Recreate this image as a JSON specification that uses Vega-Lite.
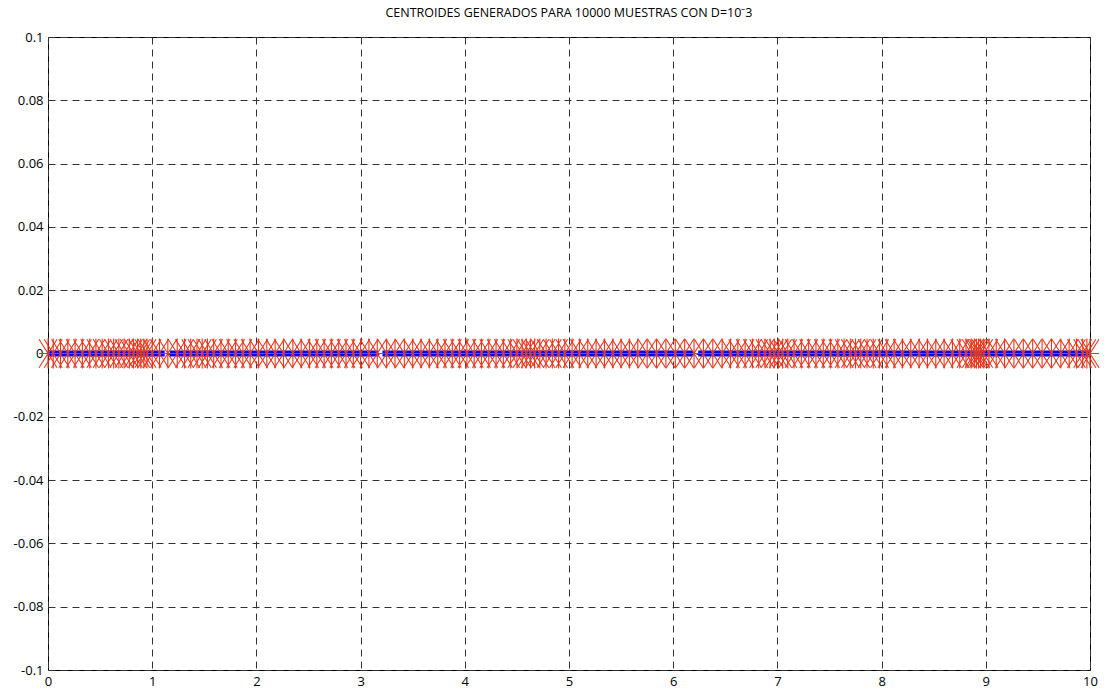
{
  "$schema": "https://vega.github.io/schema/vega-lite/v6.json",
  "width": 1042,
  "height": 633,
  "autosize": {"type": "none"},
  "padding": {"left": 48, "top": 37, "right": 16, "bottom": 26},
  "background": "white",
  "title": {
    "text": "CENTROIDES GENERADOS PARA 10000 MUESTRAS CON D=10⁻3",
    "font": "Open Sans",
    "fontSize": 12.5,
    "fontWeight": "normal",
    "color": "#000000",
    "anchor": "middle",
    "offset": 12
  },
  "config": {
    "view": {"stroke": "#000000", "strokeWidth": 1},
    "axis": {
      "labelFont": "Open Sans",
      "labelFontSize": 13,
      "labelColor": "#000000",
      "domain": false,
      "ticks": false,
      "grid": true,
      "gridColor": "#333333",
      "gridDash": [7, 5],
      "gridWidth": 1,
      "gridOpacity": 1,
      "labelFlush": false,
      "labelOverlap": false,
      "title": null
    }
  },
  "datasets": {
    "muestras": [
      {"desde": 0.0, "hasta": 1.12},
      {"desde": 1.17, "hasta": 3.17},
      {"desde": 3.21, "hasta": 6.19},
      {"desde": 6.24, "hasta": 10.0}
    ],
    "centroides": [
      {"c": 0.00}, {"c": 0.05}, {"c": 0.12}, {"c": 0.19}, {"c": 0.26}, {"c": 0.33}, {"c": 0.40}, {"c": 0.46},
      {"c": 0.52}, {"c": 0.58}, {"c": 0.63}, {"c": 0.68}, {"c": 0.73}, {"c": 0.78}, {"c": 0.82}, {"c": 0.86},
      {"c": 0.89}, {"c": 0.92}, {"c": 0.95}, {"c": 1.00},
      {"c": 1.07}, {"c": 1.15}, {"c": 1.24}, {"c": 1.31}, {"c": 1.37}, {"c": 1.43}, {"c": 1.48}, {"c": 1.53},
      {"c": 1.59}, {"c": 1.66}, {"c": 1.73}, {"c": 1.80}, {"c": 1.87}, {"c": 1.94},
      {"c": 2.02}, {"c": 2.10}, {"c": 2.18}, {"c": 2.26}, {"c": 2.35}, {"c": 2.43}, {"c": 2.51}, {"c": 2.58},
      {"c": 2.65}, {"c": 2.72}, {"c": 2.79}, {"c": 2.86}, {"c": 2.93},
      {"c": 3.00}, {"c": 3.08}, {"c": 3.16}, {"c": 3.25}, {"c": 3.33}, {"c": 3.42}, {"c": 3.50}, {"c": 3.58},
      {"c": 3.66}, {"c": 3.74}, {"c": 3.81}, {"c": 3.88}, {"c": 3.95},
      {"c": 4.02}, {"c": 4.09}, {"c": 4.16}, {"c": 4.23}, {"c": 4.30}, {"c": 4.37}, {"c": 4.44}, {"c": 4.50},
      {"c": 4.55}, {"c": 4.59}, {"c": 4.63}, {"c": 4.67}, {"c": 4.72}, {"c": 4.78}, {"c": 4.84}, {"c": 4.90},
      {"c": 4.96},
      {"c": 5.03}, {"c": 5.10}, {"c": 5.18}, {"c": 5.26}, {"c": 5.34}, {"c": 5.42}, {"c": 5.50}, {"c": 5.58},
      {"c": 5.66}, {"c": 5.75}, {"c": 5.84}, {"c": 5.93},
      {"c": 6.02}, {"c": 6.11}, {"c": 6.20}, {"c": 6.29}, {"c": 6.38}, {"c": 6.47}, {"c": 6.55}, {"c": 6.62},
      {"c": 6.69}, {"c": 6.76}, {"c": 6.82}, {"c": 6.88}, {"c": 6.93}, {"c": 6.97},
      {"c": 7.01}, {"c": 7.05}, {"c": 7.10}, {"c": 7.16}, {"c": 7.23}, {"c": 7.30}, {"c": 7.37}, {"c": 7.44},
      {"c": 7.51}, {"c": 7.58}, {"c": 7.64}, {"c": 7.70}, {"c": 7.75}, {"c": 7.80}, {"c": 7.86}, {"c": 7.92},
      {"c": 7.98},
      {"c": 8.05}, {"c": 8.12}, {"c": 8.20}, {"c": 8.28}, {"c": 8.36}, {"c": 8.44}, {"c": 8.52}, {"c": 8.60},
      {"c": 8.68}, {"c": 8.75}, {"c": 8.81}, {"c": 8.86}, {"c": 8.89}, {"c": 8.91}, {"c": 8.93}, {"c": 8.95},
      {"c": 8.98},
      {"c": 9.03}, {"c": 9.10}, {"c": 9.18}, {"c": 9.27}, {"c": 9.36}, {"c": 9.45}, {"c": 9.54}, {"c": 9.63},
      {"c": 9.72}, {"c": 9.80}, {"c": 9.87}, {"c": 9.93}, {"c": 9.97}, {"c": 10.00}
    ]
  },
  "layer": [
    {
      "data": {"name": "muestras"},
      "mark": {"type": "rule", "color": "#0000ff", "strokeWidth": 6, "clip": false},
      "encoding": {
        "x": {
          "field": "desde",
          "type": "quantitative",
          "scale": {"domain": [0, 10], "nice": false, "zero": false},
          "axis": {"values": [0, 1, 2, 3, 4, 5, 6, 7, 8, 9, 10], "labelPadding": 5, "format": "d"}
        },
        "x2": {"field": "hasta"},
        "y": {
          "datum": 0,
          "type": "quantitative",
          "scale": {"domain": [-0.1, 0.1], "nice": false, "zero": false},
          "axis": {
            "values": [-0.1, -0.08, -0.06, -0.04, -0.02, 0, 0.02, 0.04, 0.06, 0.08, 0.1],
            "labelPadding": 5,
            "labelExpr": "datum.value == 0 ? '0' : (datum.value < 0 ? '-' : '') + format(abs(datum.value), '~g')"
          }
        }
      }
    },
    {
      "data": {"name": "centroides"},
      "mark": {
        "type": "point",
        "shape": "M-0.6,-0.95L0.6,0.95M-0.6,0.95L0.6,-0.95M0,-1L0,1M-0.6,0L0.6,0",
        "filled": false,
        "size": 900,
        "stroke": "#e8361c",
        "strokeWidth": 1.1,
        "opacity": 1,
        "clip": false
      },
      "encoding": {
        "x": {"field": "c", "type": "quantitative"},
        "y": {"datum": 0, "type": "quantitative"}
      }
    }
  ]
}
